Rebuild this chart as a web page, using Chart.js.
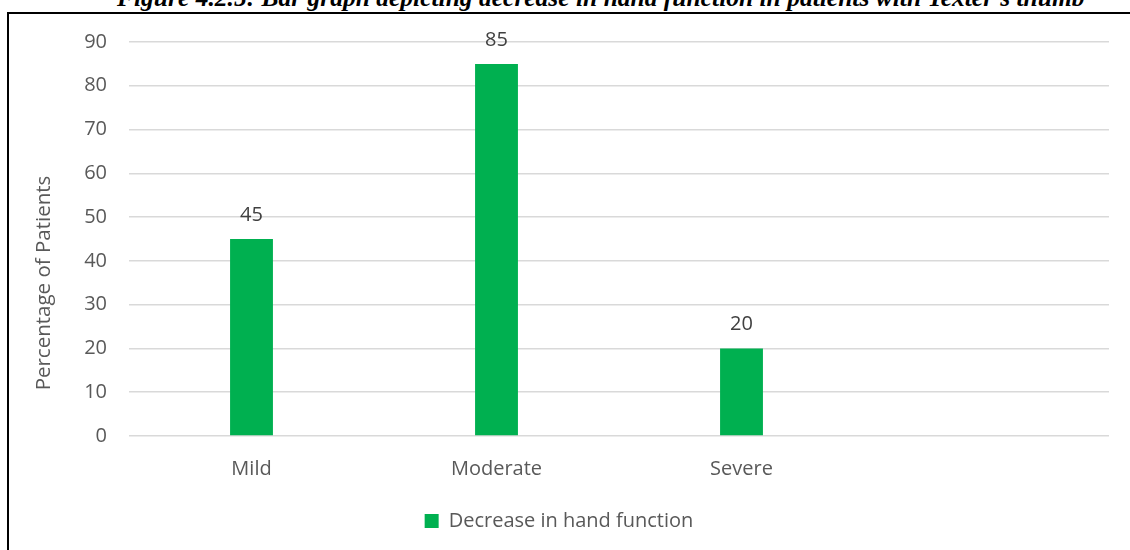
<!DOCTYPE html>
<html>
<head>
<meta charset="utf-8">
<script src="https://cdn.jsdelivr.net/npm/chart.js@4/dist/chart.umd.min.js"></script>
<style>
  html, body { margin: 0; padding: 0; background: #fff; overflow: hidden; }
  body { width: 1130px; height: 550px; position: relative; }
  #caption {
    position: absolute; left: 117px; top: -17px; margin: 0;
    line-height: 30px;
    font-family: "Liberation Serif", "DejaVu Serif", serif;
    font-weight: bold; font-style: italic; font-size: 25.5px; color: #000;
    white-space: nowrap;
  }
  #frame {
    position: absolute; left: 7px; top: 12px; width: 1123px; height: 538px;
    border-left: 2px solid #000; border-top: 2px solid #000;
  }
  #frame canvas { display: block; }
</style>
</head>
<body>
<div id="caption">Figure 4.2.5: Bar graph depicting decrease in hand function in patients with Texter's thumb</div>
<div id="frame"><canvas id="handChart" width="1121" height="536"></canvas></div>
<script>
// datos del gráfico
const categories = ['Mild', 'Moderate', 'Severe', ''];
const handFunction = [45, 85, 20, null];
const yTicks = [0, 10, 20, 30, 40, 50, 60, 70, 80, 90];
const yTitle = 'Percentage of Patients';

const labelFont = '"Open Sans", "Noto Sans", sans-serif';

// valores encima de cada barra
const valueLabels = {
    id: 'valueLabels',
    afterDatasetsDraw(chart) {
        const ctx = chart.ctx;
        ctx.save();
        ctx.font = '20px ' + labelFont;
        ctx.fillStyle = '#404040';
        ctx.textAlign = 'center';
        ctx.textBaseline = 'middle';
        chart.getDatasetMeta(0).data.forEach((bar, i) => {
            const v = handFunction[i];
            if (v === null) return;
            ctx.fillText(String(v), bar.x, bar.y - 24);
        });
        ctx.restore();
    }
};

// título del eje Y, un poco más abajo que el centro del área
const yAxisTitle = {
    id: 'yAxisTitle',
    afterDraw(chart) {
        const ctx = chart.ctx;
        const area = chart.chartArea;
        ctx.save();
        ctx.translate(35, (area.top + area.bottom) / 2 + 44);
        ctx.rotate(-Math.PI / 2);
        ctx.font = '20.5px ' + labelFont;
        ctx.fillStyle = '#595959';
        ctx.textAlign = 'center';
        ctx.textBaseline = 'middle';
        ctx.fillText(yTitle, 0, 0);
        ctx.restore();
    }
};

const data = {
    labels: categories,
    datasets: [{
        label: 'Decrease in hand function',
        data: handFunction,
        backgroundColor: '#00B050',
        borderWidth: 0,
        categoryPercentage: 1,
        barPercentage: 0.175
    }]
};

const config = {
    type: 'bar',
    data: data,
    plugins: [valueLabels, yAxisTitle],
    options: {
        responsive: false,
        animation: false,
        layout: { padding: { top: 28, right: 21, left: 0, bottom: 9 } },
        scales: {
            y: {
                min: 0,
                max: 90,
                afterBuildTicks(scale) {
                    scale.ticks = yTicks.map(v => ({ value: v }));
                },
                afterFit(scale) {
                    // ancho fijo del eje, sin relleno extra arriba/abajo
                    scale.width = 120;
                    scale.paddingTop = 0;
                    scale.paddingBottom = 0;
                },
                grid: { color: '#d9d9d9', lineWidth: 1.5, drawTicks: false },
                border: { display: false },
                ticks: {
                    padding: 22,
                    color: '#595959',
                    font: { family: labelFont, size: 20 }
                }
            },
            x: {
                grid: { display: false, drawTicks: false },
                border: { display: false },
                afterFit(scale) { scale.height = 65; },
                ticks: {
                    padding: 21,
                    color: '#595959',
                    font: { family: labelFont, size: 20 }
                }
            }
        },
        plugins: {
            legend: {
                position: 'bottom',
                labels: {
                    boxWidth: 14,
                    boxHeight: 14,
                    padding: 10,
                    color: '#595959',
                    font: { family: labelFont, size: 20 }
                }
            },
            tooltip: { enabled: false }
        }
    }
};

new Chart(document.getElementById('handChart').getContext('2d'), config);
</script>
</body>
</html>
